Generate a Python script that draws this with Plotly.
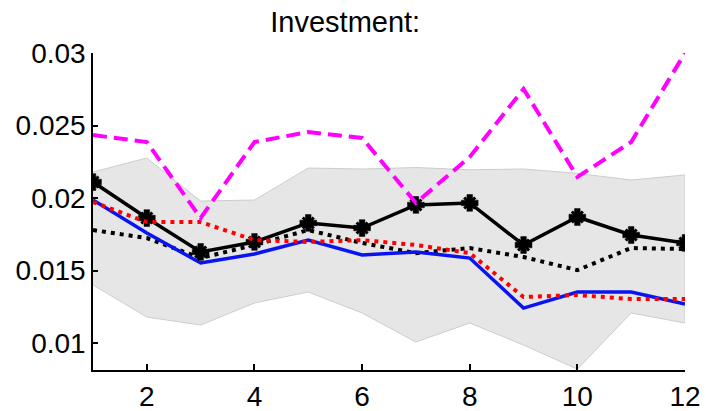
import plotly.graph_objects as go

# Forecast horizon
horizon = list(range(1, 13))

# Shaded band bounds
band_upper = [0.02179, 0.02276, 0.01979, 0.01986, 0.02207, 0.02200, 0.02210,
              0.02195, 0.02200, 0.02170, 0.02124, 0.02159]
band_lower = [0.01400, 0.01179, 0.01124, 0.01276, 0.01352, 0.01207, 0.01007,
              0.01138, 0.00986, 0.00820, 0.01207, 0.01138]

# Series
magenta_dashed = [0.02434, 0.02386, 0.01862, 0.02386, 0.02455, 0.02414, 0.01966,
                  0.02283, 0.02752, 0.02145, 0.02386, 0.03000]
black_star = [0.02110, 0.01862, 0.01628, 0.01697, 0.01828, 0.01793, 0.01952,
              0.01966, 0.01676, 0.01869, 0.01745, 0.01690]
black_dotted = [0.01779, 0.01724, 0.01586, 0.01676, 0.01779, 0.01690, 0.01620,
                0.01655, 0.01593, 0.01503, 0.01655, 0.01648]
red_dotted = [0.01972, 0.01834, 0.01834, 0.01710, 0.01697, 0.01710, 0.01676,
              0.01620, 0.01317, 0.01331, 0.01303, 0.01303]
blue_solid = [0.01986, 0.01759, 0.01552, 0.01614, 0.01710, 0.01607, 0.01628,
              0.01586, 0.01241, 0.01352, 0.01352, 0.01269]

x_ticks = [2, 4, 6, 8, 10, 12]
y_ticks = [0.01, 0.015, 0.02, 0.025, 0.03]
y_tick_text = ["0.01", "0.015", "0.02", "0.025", "0.03"]

fig = go.Figure()

# Band: upper edge forward, lower edge backward, filled
fig.add_trace(go.Scatter(
    x=horizon + horizon[::-1],
    y=band_upper + band_lower[::-1],
    mode="lines", fill="toself",
    fillcolor="#e6e6e6",
    line=dict(color="#cdcdcd", width=1),
    hoverinfo="skip", showlegend=False,
))

fig.add_trace(go.Scatter(
    x=horizon, y=black_dotted, mode="lines",
    line=dict(color="black", width=4, dash="4px,5px"),
    showlegend=False,
))
fig.add_trace(go.Scatter(
    x=horizon, y=blue_solid, mode="lines",
    line=dict(color="#0a14f0", width=3.5),
    showlegend=False,
))
fig.add_trace(go.Scatter(
    x=horizon, y=black_star, mode="lines",
    line=dict(color="black", width=3.5),
    showlegend=False,
))
# Star markers: a thick plus overlaid with a thick diagonal cross
fig.add_trace(go.Scatter(
    x=horizon, y=black_star, mode="markers",
    marker=dict(symbol="cross", size=14, color="black",
                line=dict(color="black", width=0.5)),
    showlegend=False,
))
fig.add_trace(go.Scatter(
    x=horizon, y=black_star, mode="markers",
    marker=dict(symbol="x-thin-open", size=11, color="black",
                line=dict(color="black", width=3)),
    showlegend=False,
))
fig.add_trace(go.Scatter(
    x=horizon, y=red_dotted, mode="lines",
    line=dict(color="#ff0000", width=4, dash="4px,5px"),
    showlegend=False,
))
fig.add_trace(go.Scatter(
    x=horizon, y=magenta_dashed, mode="lines",
    line=dict(color="#ff00ff", width=4, dash="14px,7px"),
    showlegend=False,
))

fig.update_layout(
    width=706, height=411,
    margin=dict(l=93, r=21, t=53, b=41),
    paper_bgcolor="white", plot_bgcolor="white",
    font=dict(family="Liberation Sans, Arial, sans-serif", size=28, color="black"),
    title=dict(text="Investment:", x=0.489, xanchor="center",
               y=0.948, yanchor="middle",
               font=dict(size=29, color="black")),
)
fig.update_xaxes(
    range=[1, 12], tickvals=x_ticks,
    showline=True, linecolor="black", linewidth=1.5,
    ticks="inside", ticklen=6, tickwidth=1.5, tickcolor="black",
    ticklabelstandoff=1, automargin=False,
    showgrid=False, zeroline=False,
)
fig.update_yaxes(
    range=[0.00814, 0.03], tickvals=y_ticks, ticktext=y_tick_text,
    showline=True, linecolor="black", linewidth=1.5,
    ticks="inside", ticklen=5, tickwidth=1.5, tickcolor="black",
    automargin=False,
    showgrid=False, zeroline=False,
)

fig.write_html("out.html")
